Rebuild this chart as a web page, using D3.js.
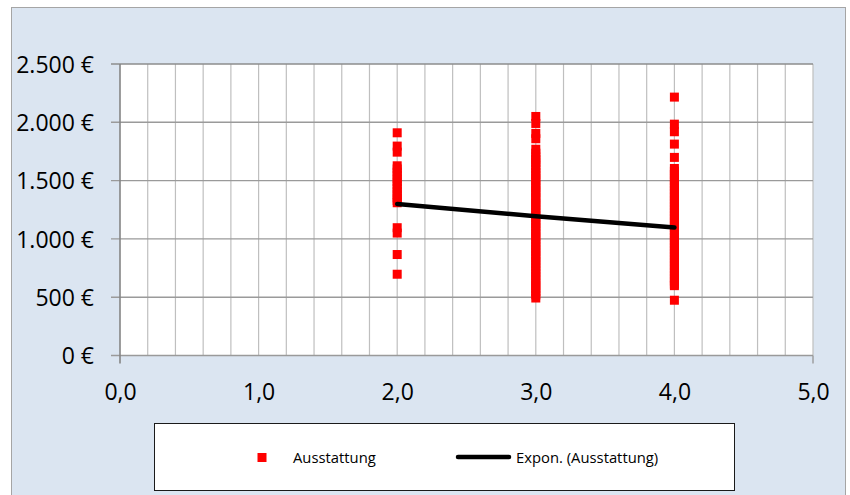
<!DOCTYPE html>
<html lang="de">
<head>
    <meta charset="UTF-8">
    <title>Ausstattung</title>
    <style>
        html, body {
            margin: 0;
            padding: 0;
            background: #fff;
        }

        #chart-wrapper {
            width: 850px;
            height: 495px;
        }

        text {
            font-family: 'Open Sans', 'Noto Sans', sans-serif;
            fill: #000;
        }
    </style>
</head>

<body>
    <div id="chart-wrapper"></div>

    <script src="https://d3js.org/d3.v7.min.js"></script>
    <script>
        // categories on the x axis (Ausstattung class)
        const xValues = [2, 3, 4]

        // prices per category
        const prices2 = [1910, 1796, 1744, 1627, 1600, 1572, 1545, 1515, 1490, 1462, 1432, 1405, 1380, 1352, 1330, 1310, 1096, 1050, 866, 697]
        const prices3 = [2050, 1990, 1905, 1859, 1769, 1735, 1702, 1680, 1655, 1628, 1600, 1571, 1548, 1520, 1495, 1468, 1440, 1415, 1392, 1360, 1338, 1310, 1285, 1260, 1232, 1205, 1180, 1150, 1128, 1100, 1072, 1048, 1020, 995, 968, 940, 915, 890, 862, 838, 810, 785, 760, 731, 705, 680, 652, 625, 600, 575, 548, 520, 493]
        const prices4 = [2216, 1984, 1919, 1813, 1699, 1604, 1580, 1552, 1525, 1500, 1470, 1445, 1418, 1390, 1362, 1335, 1310, 1282, 1255, 1230, 1200, 1175, 1148, 1120, 1095, 1068, 1040, 1012, 985, 960, 932, 905, 880, 852, 825, 800, 772, 745, 718, 690, 665, 638, 612, 599, 474]

        // exponential trendline, read at x = 2, 3, 4
        const trendValues = [1300, 1195, 1098]

        // axis ticks
        const yTicks = [0, 500, 1000, 1500, 2000, 2500]
        const xTicks = [0, 1, 2, 3, 4, 5]

        const seriesName = 'Ausstattung'
        const trendName = 'Expon. (Ausstattung)'

        const width = 850
        const height = 495
        const plot = { left: 120, right: 813, top: 64, bottom: 355.5 }

        const de = d3.formatLocale({
            decimal: ',',
            thousands: '.',
            grouping: [3],
            currency: ['', ' €']
        })
        const fmtEuro = d => de.format(',')(d) + ' €'
        const fmtX = de.format('.1f')

        const points = [prices2, prices3, prices4].flatMap((arr, i) =>
            arr.map(v => ({ x: xValues[i], y: v }))
        )
        const trend = xValues.map((x, i) => ({ x, y: trendValues[i] }))

        const svg = d3.select('#chart-wrapper')
            .append('svg')
            .attr('width', width)
            .attr('height', height)

        const xScale = d3.scaleLinear()
            .domain([0, 5])
            .range([plot.left, plot.right])
        const yScale = d3.scaleLinear()
            .domain([0, 2500])
            .range([plot.bottom, plot.top])

        drawFrame()
        drawGrid()
        drawAxis()
        drawPoints()
        drawTrend()
        drawLegend()

        function drawFrame() {
            svg.append('rect')
                .attr('x', 11.5)
                .attr('y', 7.5)
                .attr('width', 834)
                .attr('height', 500)
                .attr('fill', '#dbe5f1')
                .attr('stroke', '#a5a5a5')
                .attr('stroke-width', 1)

            svg.append('rect')
                .attr('x', plot.left)
                .attr('y', plot.top)
                .attr('width', plot.right - plot.left)
                .attr('height', plot.bottom - plot.top)
                .attr('fill', '#fff')
        }

        function drawGrid() {
            const grid = svg.append('g').attr('class', 'grid')

            // minor vertical gridlines every 0.2
            grid.selectAll('line.v')
                .data(d3.range(1, 26).map(i => i * 0.2))
                .join('line')
                .attr('class', 'v')
                .attr('x1', d => xScale(d))
                .attr('x2', d => xScale(d))
                .attr('y1', plot.top)
                .attr('y2', plot.bottom)
                .attr('stroke', '#bfbfbf')
                .attr('stroke-width', 1.2)

            grid.selectAll('line.h')
                .data(yTicks)
                .join('line')
                .attr('class', 'h')
                .attr('x1', plot.left - 9)
                .attr('x2', plot.right)
                .attr('y1', d => yScale(d))
                .attr('y2', d => yScale(d))
                .attr('stroke', d => d === 2500 ? '#8c8c8c' : '#9a9a9a')
                .attr('stroke-width', 1.4)
        }

        function drawAxis() {
            const yAxis = d3.axisLeft(yScale)
                .tickValues(yTicks)
                .tickFormat(fmtEuro)
                .tickSize(0)
                .tickPadding(26)

            const gy = svg.append('g')
                .attr('transform', `translate(${plot.left}, 0)`)
                .call(yAxis)
            gy.select('.domain').remove()
            gy.selectAll('text')
                .attr('font-size', 23)
                .attr('dy', '0.36em')
                .attr('fill', '#000')
                .style('font-family', "'Open Sans', sans-serif")

            svg.append('line')
                .attr('x1', plot.left)
                .attr('x2', plot.left)
                .attr('y1', plot.top)
                .attr('y2', plot.bottom + 8)
                .attr('stroke', '#858585')
                .attr('stroke-width', 1.6)

            const xAxis = d3.axisBottom(xScale)
                .tickValues(xTicks)
                .tickFormat(fmtX)
                .tickSize(0)

            const gx = svg.append('g')
                .attr('transform', `translate(0, ${plot.bottom})`)
                .call(xAxis)
            gx.select('.domain').remove()
            gx.selectAll('text')
                .attr('font-size', 23)
                .attr('dy', null)
                .attr('y', 44)
                .attr('fill', '#000')
                .style('font-family', "'Open Sans', sans-serif")

            // end tick below the plot
            svg.append('line')
                .attr('x1', xScale(5))
                .attr('x2', xScale(5))
                .attr('y1', plot.bottom)
                .attr('y2', plot.bottom + 8)
                .attr('stroke', '#9a9a9a')
                .attr('stroke-width', 1.4)
        }

        function drawPoints() {
            const size = 9
            svg.append('g')
                .attr('class', 'points')
                .selectAll('rect')
                .data(points)
                .join('rect')
                .attr('x', d => xScale(d.x) - size / 2)
                .attr('y', d => yScale(d.y) - size / 2)
                .attr('width', size)
                .attr('height', size)
                .attr('fill', '#ff0000')
        }

        function drawTrend() {
            const line = d3.line()
                .curve(d3.curveMonotoneX)
                .x(d => xScale(d.x))
                .y(d => yScale(d.y))

            svg.append('path')
                .datum(trend)
                .attr('fill', 'none')
                .attr('stroke', '#000')
                .attr('stroke-width', 4.5)
                .attr('stroke-linecap', 'round')
                .attr('d', line)
        }

        function drawLegend() {
            const legend = svg.append('g').attr('class', 'legend')

            legend.append('rect')
                .attr('x', 154.5)
                .attr('y', 423.5)
                .attr('width', 580)
                .attr('height', 67)
                .attr('fill', '#fff')
                .attr('stroke', '#1a1a1a')
                .attr('stroke-width', 1)

            legend.append('rect')
                .attr('x', 257.5)
                .attr('y', 453)
                .attr('width', 9)
                .attr('height', 9)
                .attr('fill', '#ff0000')

            legend.append('text')
                .attr('x', 293)
                .attr('y', 463)
                .attr('font-size', 14.8)
                .text(seriesName)

            legend.append('line')
                .attr('x1', 458)
                .attr('x2', 509)
                .attr('y1', 457)
                .attr('y2', 457)
                .attr('stroke', '#000')
                .attr('stroke-width', 4.5)
                .attr('stroke-linecap', 'round')

            legend.append('text')
                .attr('x', 516)
                .attr('y', 463)
                .attr('font-size', 14.8)
                .text(trendName)
        }
    </script>
</body>
</html>
